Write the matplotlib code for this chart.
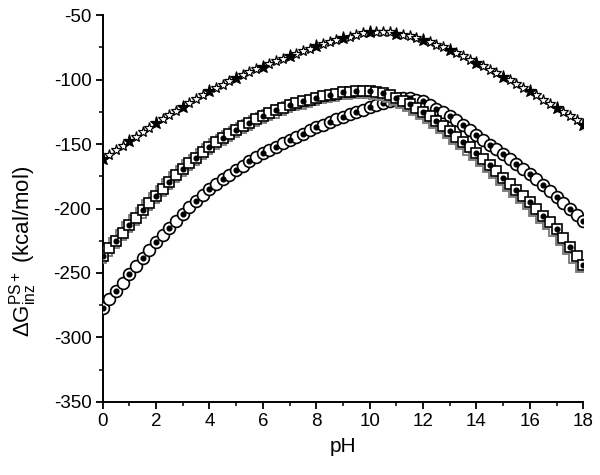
import numpy as np
import matplotlib
matplotlib.use("Agg")
import matplotlib.pyplot as plt
from matplotlib.ticker import MultipleLocator
import matplotlib.transforms as mtransforms

plt.rcParams['font.family'] = ['Liberation Sans', 'DejaVu Sans']
plt.rcParams['mathtext.fontset'] = 'custom'
plt.rcParams['mathtext.rm'] = 'Liberation Sans'
plt.rcParams['mathtext.it'] = 'Liberation Sans'
plt.rcParams['axes.unicode_minus'] = False

# pH grid (0.25 step)
ph = np.arange(0, 18.0001, 0.25)

# Top group (stars / filled markers)
top_vals = [-162, -158.5, -155, -151.5, -148, -144.5, -141, -137.5, -134, -130.7, -127.5, -124.2,
            -121, -118, -115, -112, -109, -106.5, -104, -101.5, -99, -96.7, -94.5, -92.2,
            -90, -88, -86, -84, -82, -80, -78, -76, -74, -72.5, -71, -69.5,
            -68, -66.7, -65.5, -64.2, -63.5, -63, -63, -63.5, -64.5, -65.5, -66.5, -67.7,
            -69, -71, -73, -75, -77, -79.5, -82, -84.5, -87, -89.7, -92.5, -95.2,
            -98, -100.7, -103.5, -106.2, -109, -112.2, -115.5, -118.7, -122, -125.2, -128.5, -131.7,
            -135]

# Middle group (squares)
sq_vals = [-237, -231, -225, -219, -213, -207.2, -201.5, -195.7, -190, -184.7, -179.5, -174.2,
           -169, -164.7, -160.5, -156.2, -152, -148.7, -145.5, -142.2, -139, -136.2, -133.5, -130.7,
           -128, -126, -124, -122, -120, -118.5, -117, -115.5, -114, -113, -112, -111,
           -110, -109.5, -109.2, -109, -109, -109.5, -110.5, -112, -114, -116.5, -119, -122,
           -125, -128.5, -132, -136, -140, -144.2, -148.5, -152.7, -157, -161.7, -166.5, -171.2,
           -176, -180.7, -185.5, -190.2, -195, -200.2, -205.5, -210.7, -216, -222.5, -229.5, -236.5,
           -244]

# Bottom group (circles)
ci_vals = [-277, -270.5, -264, -257.5, -251, -244.7, -238.5, -232.2, -226, -220.5, -215, -209.5,
           -204, -199.2, -194.5, -189.7, -185, -181.2, -177.5, -173.7, -170, -166.7, -163.5, -160.2,
           -157, -154.5, -152, -149.5, -147, -144.5, -142, -139.5, -137, -135, -133, -131,
           -129, -127, -125.2, -123.3, -121.5, -119.7, -118, -116.5, -115.3, -114.7, -114.7, -115.5,
           -117, -119.5, -122.5, -125, -128, -131.7, -135.5, -139.2, -143, -146.7, -150.5, -154.2,
           -158, -161.7, -165.5, -169.2, -173, -177.5, -182, -186.5, -191, -195.7, -200.5, -205.2,
           -210]

fig = plt.figure(figsize=(6.0, 4.75), dpi=100)
ax = fig.add_axes([0.171, 0.1537, 0.801, 0.8147])

top = np.array(top_vals)
sq = np.array(sq_vals)
ci = np.array(ci_vals)

# circles
ax.plot(ph, ci, ls='none', marker='o', ms=8.5, mfc='white', mec='black', mew=1.2, zorder=3)
ax.plot(ph[::2], ci[::2], ls='none', marker='o', ms=3.4, mfc='black', mec='black', zorder=4)

# squares: gray shadow then black
shadow = ax.transData + mtransforms.ScaledTranslation(-1.5/72, -1.5/72, fig.dpi_scale_trans)
ax.plot(ph, sq, ls='none', marker='s', ms=7, mfc='white', mec='#777777', mew=1.3, zorder=5,
        transform=shadow)
ax.plot(ph, sq, ls='none', marker='s', ms=7, mfc='white', mec='black', mew=1.2, zorder=6)
ax.plot(ph[::2], sq[::2], ls='none', marker='o', ms=3.4, mfc='black', mec='black', zorder=7)

# top: open stars + filled markers
ax.plot(ph, top, ls='none', marker='*', ms=8, mfc='white', mec='black', mew=0.9, zorder=8)
ax.plot(ph[::4], top[::4], ls='none', marker='*', ms=9.5, mfc='black', mec='black', mew=0.8, zorder=9)

ax.set_xlim(0, 18)
ax.set_ylim(-350, -50)
ax.xaxis.set_major_locator(MultipleLocator(2))
ax.xaxis.set_minor_locator(MultipleLocator(1))
ax.yaxis.set_major_locator(MultipleLocator(50))
ax.yaxis.set_minor_locator(MultipleLocator(25))
for s in ['top', 'right']:
    ax.spines[s].set_visible(False)
for s in ['left', 'bottom']:
    ax.spines[s].set_linewidth(1.4)
ax.tick_params(which='major', direction='out', length=5, width=1.3, labelsize=13.5, pad=3)
ax.tick_params(which='minor', direction='out', length=3, width=1.1)

ax.set_xlabel('pH', fontsize=15, labelpad=5)
ax.set_ylabel(r'$\mathregular{\Delta G_{inz}^{PS+}}$ (kcal/mol)', fontsize=16)
ax.yaxis.set_label_coords(-0.132, 0.39)

fig.savefig('out.png', dpi=100)
